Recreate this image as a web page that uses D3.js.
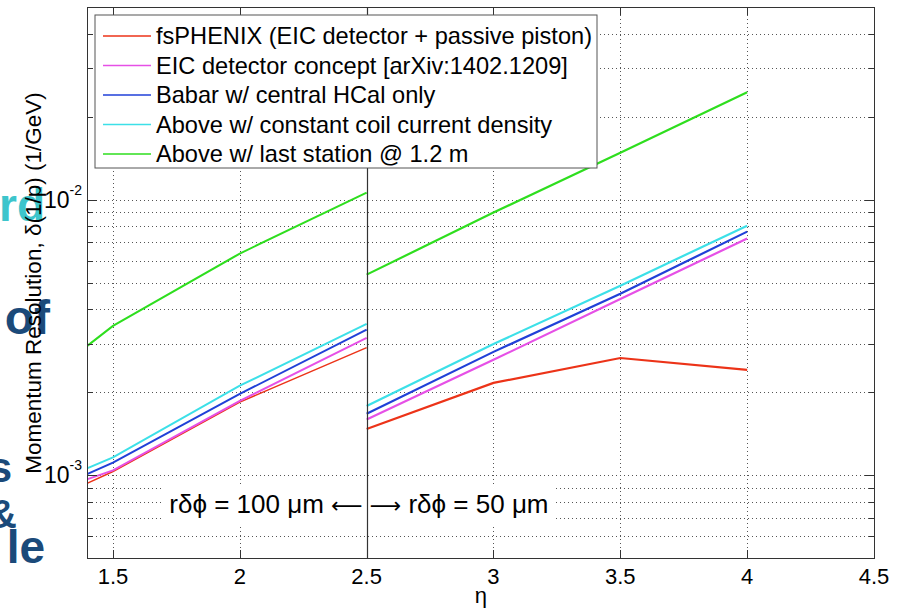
<!DOCTYPE html>
<html>
<head>
<meta charset="utf-8">
<script src="https://cdn.jsdelivr.net/npm/d3@7"></script>
<style>
  body { margin: 0; background: #fff; }
  svg { font-family: "Liberation Sans", Arial, Helvetica, sans-serif; display: block; }
</style>
</head>
<body>
<svg id="chart"></svg>
<script>
// eta points for the two halves of the plot
const etaLeft = [1.4, 1.5, 2.0, 2.5];
const etaRight = [2.5, 3.0, 3.5, 4.0];

const seriesNames = [
  "fsPHENIX (EIC detector + passive piston)",
  "EIC detector concept [arXiv:1402.1209]",
  "Babar w/ central HCal only",
  "Above w/ constant coil current density",
  "Above w/ last station @ 1.2 m"
];
const seriesColors = ["#ec3318", "#e650e6", "#2040d8", "#3ce0e8", "#2ede1e"];

// momentum resolution, 1/GeV
const fsphenixLeft = [0.000935, 0.00103, 0.00184, 0.00290];
const fsphenixRight = [0.00147, 0.00216, 0.00266, 0.00241];
const eicLeft = [0.000967, 0.00104, 0.00186, 0.00315];
const eicRight = [0.00159, 0.00262, 0.00436, 0.00722];
const babarLeft = [0.00101, 0.00111, 0.00197, 0.00337];
const babarRight = [0.00167, 0.00280, 0.00455, 0.00765];
const coilLeft = [0.00106, 0.00116, 0.00211, 0.00354];
const coilRight = [0.00178, 0.00299, 0.00487, 0.00804];
const stationLeft = [0.00295, 0.00348, 0.00637, 0.0106];
const stationRight = [0.00534, 0.00897, 0.0148, 0.0245];

const xTicks = [1.5, 2, 2.5, 3, 3.5, 4, 4.5];
const yMajor = [0.001, 0.01];
const yMinor = [6e-4, 7e-4, 8e-4, 9e-4, 2e-3, 3e-3, 4e-3, 5e-3, 6e-3, 7e-3, 8e-3, 9e-3, 2e-2, 3e-2, 4e-2];

const W = 903, H = 614;
const margin = {top: 7, right: 29, bottom: 56, left: 87.6};

const svg = d3.select("#chart").attr("width", W).attr("height", H);

// stray slide text cut off at the left edge
const slide = svg.append("g").attr("font-weight", "bold");
slide.append("text").attr("x", 45).attr("y", 221).attr("text-anchor", "end")
  .attr("font-size", 46).attr("fill", "#3dc5cc").text("rd");
slide.append("text").attr("x", 50).attr("y", 334).attr("text-anchor", "end")
  .attr("font-size", 48).attr("fill", "#1b4a7a").text("of");
slide.append("text").attr("x", 12).attr("y", 482).attr("text-anchor", "end")
  .attr("font-size", 42).attr("fill", "#1b4a7a").text("s");
slide.append("text").attr("x", 17).attr("y", 528).attr("text-anchor", "end")
  .attr("font-size", 40).attr("fill", "#1b4a7a").text("&");
slide.append("text").attr("x", 45).attr("y", 563).attr("text-anchor", "end")
  .attr("font-size", 46).attr("fill", "#1b4a7a").text("le");

const x = d3.scaleLinear().domain([1.4, 4.5]).range([margin.left, W - margin.right]);
const y = d3.scaleLog().domain([5e-4, 5e-2]).range([H - margin.bottom, margin.top]);
const x0 = x.range()[0], x1 = x.range()[1];
const yb = y.range()[0], yt = y.range()[1];

// grid
const grid = svg.append("g").attr("stroke", "#555").attr("stroke-width", 1)
  .attr("stroke-dasharray", "1,3").attr("shape-rendering", "crispEdges");
grid.selectAll(".gy").data(yMajor.concat(yMinor)).join("line")
  .attr("x1", x0).attr("x2", x1)
  .attr("y1", d => Math.round(y(d)) + 0.5).attr("y2", d => Math.round(y(d)) + 0.5);
grid.selectAll(".gx").data(xTicks.filter(d => d !== 2.5 && d !== 4.5)).join("line")
  .attr("y1", yt).attr("y2", yb)
  .attr("x1", d => Math.round(x(d)) + 0.5).attr("x2", d => Math.round(x(d)) + 0.5);

// data lines
const line = d3.line().x(d => x(d[0])).y(d => y(d[1]));
const leftData = [fsphenixLeft, eicLeft, babarLeft, coilLeft, stationLeft];
const rightData = [fsphenixRight, eicRight, babarRight, coilRight, stationRight];
const lines = svg.append("g").attr("fill", "none");
leftData.forEach((vals, i) => {
  lines.append("path")
    .attr("d", line(etaLeft.map((e, j) => [e, vals[j]])))
    .attr("stroke", seriesColors[i]).attr("stroke-width", i === 0 ? 1.5 : 2);
});
rightData.forEach((vals, i) => {
  lines.append("path")
    .attr("d", line(etaRight.map((e, j) => [e, vals[j]])))
    .attr("stroke", seriesColors[i]).attr("stroke-width", 2.2);
});

// annotation boxes
const ann = svg.append("g").attr("font-size", 26).attr("fill", "#000");
ann.append("rect").attr("x", 163).attr("y", 485).attr("width", x(2.5) - 164).attr("height", 40).attr("fill", "#fff");
ann.append("rect").attr("x", x(2.5) + 1).attr("y", 485).attr("width", 188).attr("height", 40).attr("fill", "#fff");
const tl = ann.append("text").attr("x", x(2.5) - 4).attr("y", 513).attr("text-anchor", "end");
tl.append("tspan").text("r\u03b4\u03d5 = 100 \u03bcm ");
tl.append("tspan").attr("font-size", 22).attr("font-family", "DejaVu Sans").text("\u27f5");
const tr = ann.append("text").attr("x", x(2.5) + 3).attr("y", 513);
tr.append("tspan").attr("font-size", 22).attr("font-family", "DejaVu Sans").text("\u27f6");
tr.append("tspan").text(" r\u03b4\u03d5 = 50 \u03bcm");

// divider at eta = 2.5
svg.append("line").attr("x1", Math.round(x(2.5)) + 0.5).attr("x2", Math.round(x(2.5)) + 0.5)
  .attr("y1", yt).attr("y2", yb).attr("stroke", "#333").attr("stroke-width", 1.2);

// axes box and ticks
const axes = svg.append("g").attr("stroke", "#333").attr("shape-rendering", "crispEdges");
axes.append("rect").attr("x", x0).attr("y", yt).attr("width", x1 - x0).attr("height", yb - yt)
  .attr("fill", "none");
xTicks.forEach(t => {
  const px = Math.round(x(t)) + 0.5;
  axes.append("line").attr("x1", px).attr("x2", px).attr("y1", yb).attr("y2", yb - 8);
  axes.append("line").attr("x1", px).attr("x2", px).attr("y1", yt).attr("y2", yt + 8);
});
yMajor.concat(yMinor).forEach(t => {
  const py = Math.round(y(t)) + 0.5;
  const len = yMajor.includes(t) ? 9 : 5;
  axes.append("line").attr("x1", x0).attr("x2", x0 + len).attr("y1", py).attr("y2", py);
  axes.append("line").attr("x1", x1).attr("x2", x1 - len).attr("y1", py).attr("y2", py);
});

// tick labels
svg.append("g").attr("font-size", 22).attr("text-anchor", "middle")
  .selectAll("text").data(xTicks).join("text")
  .attr("x", d => x(d)).attr("y", 584).text(d => d);
const yl = svg.append("g").selectAll("g").data(yMajor).join("g")
  .attr("transform", d => "translate(" + (x0 - 7) + "," + (y(d) + 8) + ")");
yl.append("text").attr("x", -11).attr("text-anchor", "end").attr("font-size", 23).text("10");
yl.append("text").attr("x", -11).attr("y", -13).attr("font-size", 14)
  .text(d => "-" + Math.round(-Math.log10(d)));

// axis titles
svg.append("text").attr("transform", "translate(41," + 283 + ") rotate(-90)")
  .attr("text-anchor", "middle").attr("font-size", 22.5)
  .text("Momentum Resolution, \u03b4(1/p) (1/GeV)");
svg.append("text").attr("x", x(2.95)).attr("y", 603).attr("text-anchor", "middle")
  .attr("font-size", 22).text("\u03b7");

// legend
const lg = svg.append("g").attr("transform", "translate(95,15)");
lg.append("rect").attr("width", 502).attr("height", 153).attr("fill", "#fff")
  .attr("stroke", "#555").attr("stroke-width", 1);
const rows = lg.selectAll(".row").data(seriesNames).join("g")
  .attr("transform", (d, i) => "translate(0," + (21 + 29.5 * i) + ")");
rows.append("line").attr("x1", 8).attr("x2", 56).attr("stroke", (d, i) => seriesColors[i])
  .attr("stroke-width", 1.6);
rows.append("text").attr("x", 61).attr("dy", "0.35em").attr("font-size", 23.6).text(d => d);
</script>
</body>
</html>
